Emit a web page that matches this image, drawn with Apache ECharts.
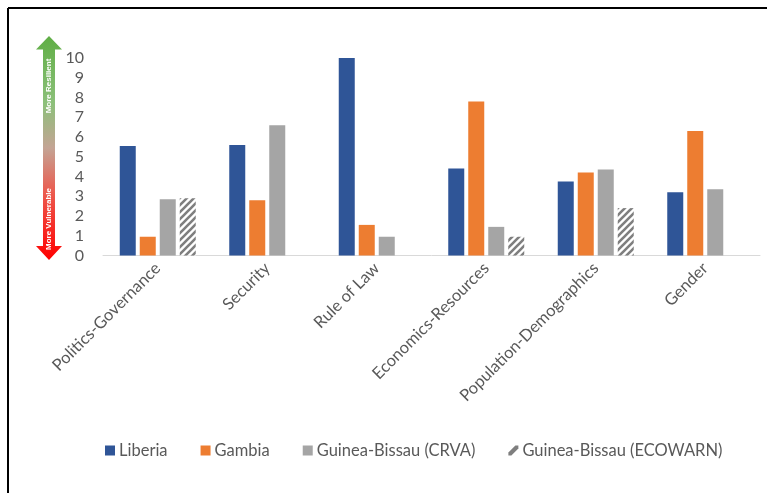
<!DOCTYPE html>
<html>
<head>
<meta charset="utf-8">
<style>
html,body{margin:0;padding:0;background:#fff;}
#chart{width:767px;height:493px;}
</style>
<script src="https://cdn.jsdelivr.net/npm/echarts@6/dist/echarts.min.js"></script>
</head>
<body>
<div id="chart"></div>
<script>
const categories = ['Politics-Governance','Security','Rule of Law','Economics-Resources','Population-Demographics','Gender'];
const liberia = [5.55, 5.6, 10, 4.4, 3.75, 3.2];
const gambia = [0.95, 2.8, 1.55, 7.8, 4.2, 6.3];
const gbCrva = [2.85, 6.6, 0.95, 1.45, 4.35, 3.35];
const gbEcowarn = [2.9, null, null, 0.95, 2.4, null];
const yTicks = [0,1,2,3,4,5,6,7,8,9,10];
const seriesNames = ['Liberia','Gambia','Guinea-Bissau (CRVA)','Guinea-Bissau (ECOWARN)'];

const FONT = 'Lato, "Open Sans", sans-serif';

function hatch(){
  const c = document.createElement('canvas');
  c.width = 7; c.height = 7;
  const g = c.getContext('2d');
  g.fillStyle = '#ffffff'; g.fillRect(0,0,7,7);
  g.strokeStyle = '#7f7f7f'; g.lineWidth = 2.6;
  g.beginPath();
  g.moveTo(-1,8); g.lineTo(8,-1);
  g.moveTo(-2,2); g.lineTo(2,-2);
  g.moveTo(5,9); g.lineTo(9,5);
  g.stroke();
  return c;
}

const chart = echarts.init(document.getElementById('chart'), null, {renderer:'canvas'});
const barW = 16;
const common = {type:'bar', barWidth:barW, barGap:'25%', barCategoryGap:'31%'};
const option = {
  animation:false,
  backgroundColor:'#fff',
  grid:{left:103, right:7, top:58, bottom:237.5, containLabel:false},
  legend:{
    bottom:29, left:100,
    itemWidth:10, itemHeight:10, itemGap:33,
    textStyle:{fontFamily:FONT, fontSize:16.5, color:'#595959', padding:[0,0,0,-1]},
    data:[
      {name:seriesNames[0], icon:'rect'},
      {name:seriesNames[1], icon:'rect'},
      {name:seriesNames[2], icon:'rect'},
      {name:seriesNames[3], icon:'path://M0,10 L3,10 L10,3 L10,0 L7,0 L0,7 Z', itemStyle:{color:'#7f7f7f'}}
    ]
  },
  xAxis:{
    type:'category', data:categories,
    axisLine:{lineStyle:{color:'#d9d9d9', width:1}},
    axisTick:{show:false},
    axisLabel:{rotate:45, interval:0, margin:10, fontFamily:FONT, fontSize:16.5, color:'#595959'}
  },
  yAxis:{
    type:'value', min:yTicks[0], max:yTicks[yTicks.length-1], interval:1,
    axisLine:{show:false}, axisTick:{show:false}, splitLine:{show:false},
    axisLabel:{margin:19, fontFamily:FONT, fontSize:16, color:'#595959'}
  },
  series:[
    Object.assign({name:seriesNames[0], data:liberia, itemStyle:{color:'#2F5597'}}, common),
    Object.assign({name:seriesNames[1], data:gambia, itemStyle:{color:'#ED7D31'}}, common),
    Object.assign({name:seriesNames[2], data:gbCrva, itemStyle:{color:'#A5A5A5'}}, common),
    Object.assign({name:seriesNames[3], data:gbEcowarn, itemStyle:{color:{image:hatch(), repeat:'repeat'}}}, common)
  ],
  graphic:[
    {type:'line', shape:{x1:8, y1:8, x2:767, y2:8}, style:{stroke:'#000', lineWidth:2}},
    {type:'line', shape:{x1:8, y1:8, x2:8, y2:493}, style:{stroke:'#000', lineWidth:2}},
    {type:'polygon', shape:{points:[[49,36],[62,49.5],[55,49.5],[55,246],[62,246],[49,260],[36,246],[43,246],[43,49.5],[36,49.5]]},
     style:{fill:new echarts.graphic.LinearGradient(0,0,0,1,[
        {offset:0,color:'#5fae45'},
        {offset:0.3,color:'#8cc07a'},
        {offset:0.5,color:'#c4a494'},
        {offset:0.7,color:'#ec5a4e'},
        {offset:1,color:'#ff0000'}
     ])}},
    {type:'text', x:49, y:86, rotation:Math.PI/2,
     style:{text:'More Resilient', fill:'#fff', font:'bold 8px "Liberation Sans", Arial, sans-serif', align:'center', verticalAlign:'middle'}},
    {type:'text', x:49, y:219, rotation:Math.PI/2,
     style:{text:'More Vulnerable', fill:'#fff', font:'bold 8px "Liberation Sans", Arial, sans-serif', align:'center', verticalAlign:'middle'}}
  ]
};
chart.setOption(option);
</script>
</body>
</html>
